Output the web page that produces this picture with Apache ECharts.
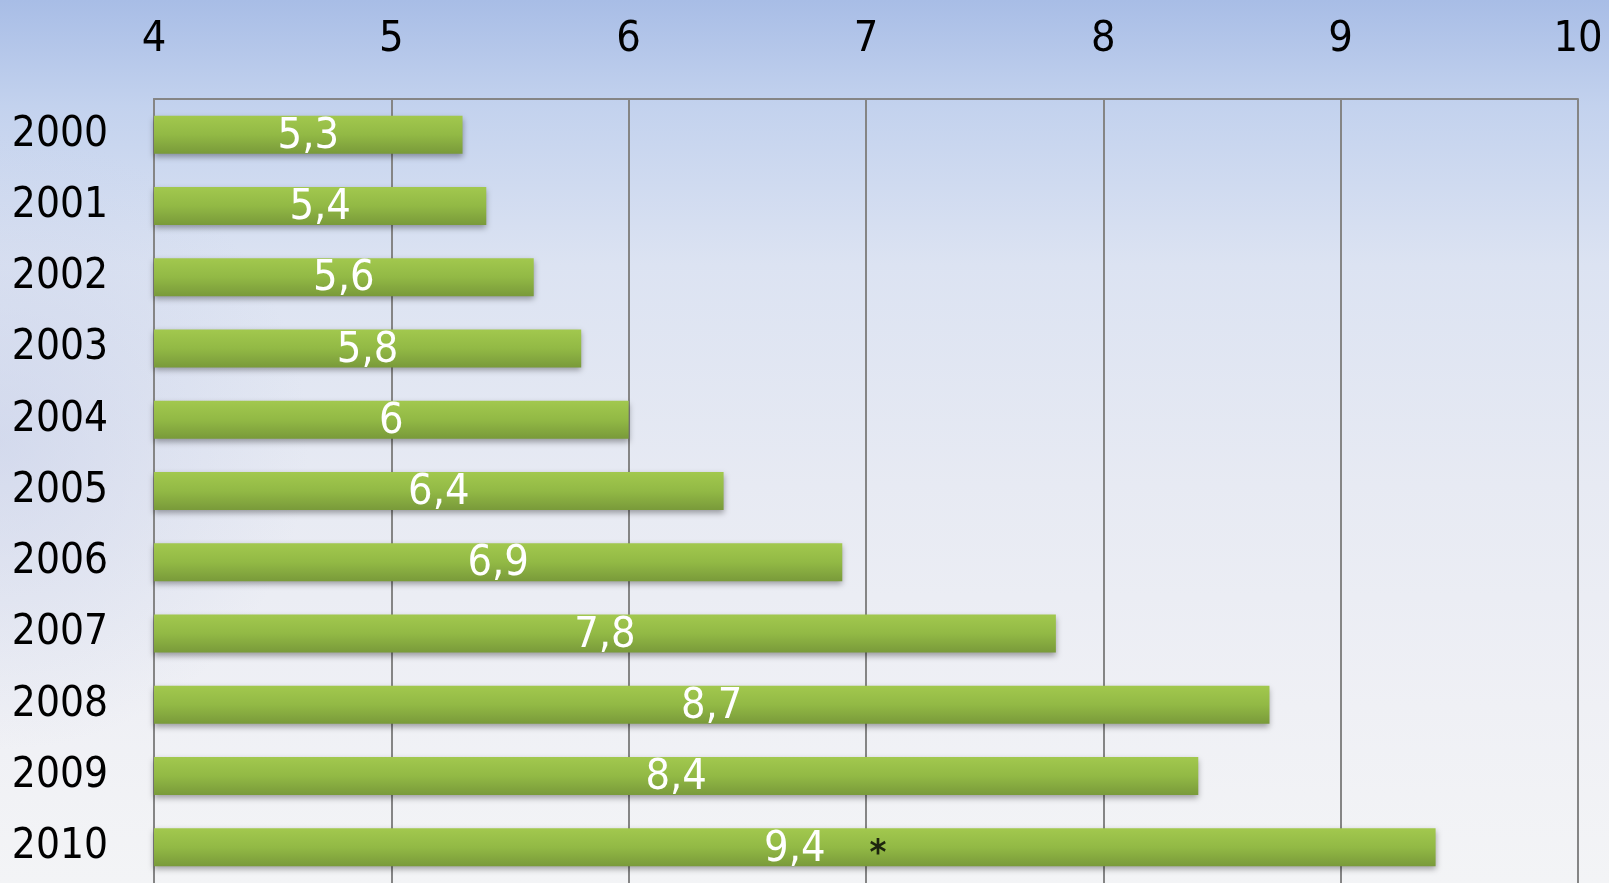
<!DOCTYPE html>
<html>
<head>
<meta charset="utf-8">
<script src="https://cdn.jsdelivr.net/npm/echarts@6/dist/echarts.min.js"></script>
<style>
  html, body { margin: 0; padding: 0; width: 100%; height: 100%; overflow: hidden; }
  #chart { width: 1609px; height: 883px; }
</style>
</head>
<body>
<div id="chart"></div>
<script>
// Years shown on the category axis (top to bottom)
const years = ['2000', '2001', '2002', '2003', '2004', '2005', '2006', '2007', '2008', '2009', '2010'];
// Value for each year
const values = [5.3, 5.4, 5.6, 5.8, 6, 6.4, 6.9, 7.8, 8.7, 8.4, 9.4];
// Value axis range and step
const axisMin = 4;
const axisMax = 10;
const axisStep = 1;
// Footnote marker placed on the 2010 bar
const noteMarks = [[7.05, '2010', '*']];

const FONT = '"DejaVu Sans Condensed", "Liberation Sans", sans-serif';
const fmt = v => String(v).replace('.', ',');

const chart = echarts.init(document.getElementById('chart'));
chart.setOption({
  animation: false,
  backgroundColor: {
    type: 'linear', x: 0, y: 0, x2: 0, y2: 1,
    colorStops: [
      { offset: 0, color: '#a8bde6' },
      { offset: 0.12, color: '#c3d2ee' },
      { offset: 0.3, color: '#dce3f2' },
      { offset: 0.55, color: '#e7eaf3' },
      { offset: 0.8, color: '#eff0f5' },
      { offset: 1, color: '#f3f4f6' }
    ]
  },
  // soft bluish haze along the left edge
  graphic: [{
    type: 'rect',
    silent: true,
    z: -10,
    shape: { x: 0, y: 0, width: 1609, height: 883 },
    style: {
      fill: {
        type: 'radial', x: 0, y: 0.5, r: 0.35,
        colorStops: [
          { offset: 0, color: 'rgba(190,200,230,0.45)' },
          { offset: 1, color: 'rgba(190,200,230,0)' }
        ]
      }
    }
  }],
  grid: { left: 154, top: 99, width: 1424, height: 788, containLabel: false },
  xAxis: {
    type: 'value',
    position: 'top',
    min: axisMin, max: axisMax, interval: axisStep,
    axisLine: { show: true, lineStyle: { color: '#858585', width: 2 } },
    axisTick: { show: false },
    splitLine: { show: true, lineStyle: { color: '#858585', width: 2 } },
    axisLabel: { color: '#000', fontSize: 43, fontFamily: FONT, margin: 38, formatter: fmt }
  },
  yAxis: {
    type: 'category',
    data: years,
    inverse: true,
    axisLine: { show: true, lineStyle: { color: '#858585', width: 2 } },
    axisTick: { show: false },
    axisLabel: { color: '#000', fontSize: 42, fontFamily: FONT, margin: 46 }
  },
  series: [
    {
      type: 'bar',
      data: values,
      barWidth: 38,
      itemStyle: {
        color: {
          type: 'linear', x: 0, y: 0, x2: 0, y2: 1,
          colorStops: [
            { offset: 0, color: '#a2c84e' },
            { offset: 0.5, color: '#92b945' },
            { offset: 1, color: '#799a3a' }
          ]
        },
        shadowColor: 'rgba(0,0,0,0.35)',
        shadowBlur: 6,
        shadowOffsetY: 3
      },
      label: {
        show: true,
        position: 'inside',
        color: '#fff',
        fontSize: 43,
        fontFamily: FONT,
        offset: [0, 2],
        formatter: p => fmt(p.value)
      }
    },
    {
      type: 'scatter',
      data: noteMarks.map(m => [m[0], m[1]]),
      symbolSize: 0,
      label: {
        show: true,
        position: 'inside',
        color: '#000',
        fontSize: 36,
        fontWeight: 'bold',
        fontFamily: FONT,
        offset: [0, 7],
        formatter: p => noteMarks[p.dataIndex][2]
      },
      z: 5
    }
  ]
});
</script>
</body>
</html>
